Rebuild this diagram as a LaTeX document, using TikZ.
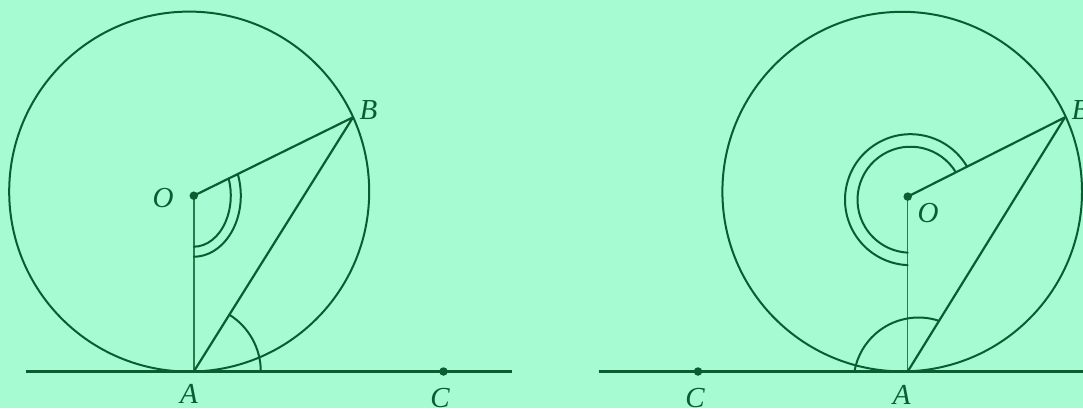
\documentclass[tikz,border=0pt]{standalone}
\usepackage{fontspec}
\setmainfont{Liberation Serif}
\definecolor{bg}{RGB}{166,251,210}
\definecolor{ink}{RGB}{10,92,50}
\definecolor{inklight}{RGB}{38,124,78}
\begin{document}
\begin{tikzpicture}[x=1pt,y=1pt,line join=round,line cap=round,
  circ/.style={draw=ink,line width=2.0pt},
  seg/.style={draw=ink,line width=2.2pt},
  radline/.style={draw=inklight,line width=1.5pt},
  tangentline/.style={draw=ink,line width=2.8pt,line cap=butt},
  markarc/.style={draw=ink,line width=2.0pt},
  ptdot/.style={circle,fill=ink,inner sep=0pt,minimum size=8.5pt},
  lbl/.style={inner sep=0pt,font=\fontsize{29}{33}\selectfont\itshape,text=ink}]
\fill[bg] (0,0) rectangle (1083,408);
\useasboundingbox (0,0) rectangle (1083,408);
% ---------- left figure ----------
\coordinate (K1) at (189.2,216.4);
\coordinate (O1) at (193.8,212.3);
\coordinate (A1) at (193.8,36.5);
\coordinate (B1) at (353,290.7);
\coordinate (C1) at (443.5,36.5);
\coordinate (L1a) at (25.8,36.5);
\coordinate (L1b) at (512,36.5);
\draw[circ] (K1) circle[radius=180pt];
\draw[tangentline] (L1a) -- (L1b);
\draw[radline] (O1) -- (A1);
\draw[seg] (O1) -- (B1) -- (A1);
\draw[markarc] ([shift={(0,-51)}]O1) arc[start angle=-90,end angle=19.8,x radius=37pt,y radius=51pt];
\draw[markarc] ([shift={(0,-61)}]O1) arc[start angle=-90,end angle=20.9,x radius=47pt,y radius=61pt];
\draw[markarc] ([shift={(67,0)}]A1) arc[start angle=0,end angle=58,radius=67pt];
\node[ptdot] (dO1) at (O1) {};
\node[ptdot] (dC1) at (C1) {};
\node[lbl] (tO1) at (163,209.5) {O};
\node[lbl] (tB1) at (368.5,298) {B};
\node[lbl] (tA1) at (189,13.7) {A};
\node[lbl] (tC1) at (440,9.5) {C};
% ---------- right figure ----------
\coordinate (K2) at (902.2,216.4);
\coordinate (O2) at (907.7,211.4);
\coordinate (A2) at (907.7,36.5);
\coordinate (B2) at (1065,290.7);
\coordinate (C2) at (698,36.5);
\coordinate (M2) at (910.5,208.3);
\coordinate (N2) at (918.5,25.5);
\coordinate (L2a) at (598.5,36.5);
\coordinate (L2b) at (1083,36.5);
\draw[circ] (K2) circle[radius=179.8pt];
\draw[tangentline] (L2a) -- (L2b);
\draw[radline] (O2) -- (A2);
\draw[seg] (O2) -- (B2) -- (A2);
\draw[markarc] ([shift={(31.4:53)}]M2) arc[start angle=31.4,end angle=267,radius=53pt];
\draw[markarc] ([shift={(30.5:65.5)}]M2) arc[start angle=30.5,end angle=267.5,radius=65.5pt];
\draw[markarc] ([shift={(71.7:65)}]N2) arc[start angle=71.7,end angle=169.8,radius=65pt];
\node[ptdot] (dO2) at (O2) {};
\node[ptdot] (dC2) at (C2) {};
\node[lbl] (tO2) at (928,195) {O};
\node[lbl] (tB2) at (1080.5,298) {B};
\node[lbl] (tA2) at (901.7,13) {A};
\node[lbl] (tC2) at (695,9.5) {C};
\end{tikzpicture}
\end{document}
